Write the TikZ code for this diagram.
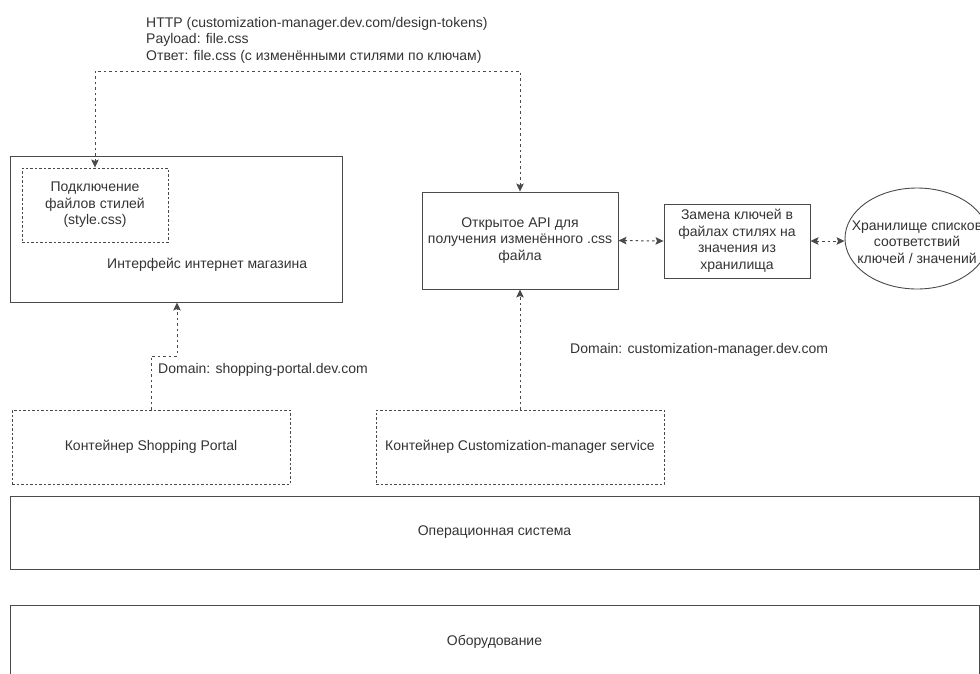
\documentclass[tikz,border=0pt]{standalone}
\usepackage{fontspec}
\setmainfont{Liberation Sans}
\usetikzlibrary{arrows.meta,shapes.geometric}
\definecolor{linec}{HTML}{4A4A4A}
\definecolor{textc}{HTML}{333333}
\tikzset{
  base/.style={font=\fontsize{14}{16.5}\selectfont, text=textc},
  box/.style={base, draw=linec, line width=0.9pt, align=center, inner sep=0pt},
  dbox/.style={box, dash pattern=on 2.5pt off 2pt},
  lbl/.style={base, inner sep=0pt, align=left},
  tip/.style={},
  conn/.style={draw=linec, line width=1pt, dash pattern=on 2.5pt off 3pt,
    arrows={Stealth[length=8pt,width=7.5pt,inset=1.5pt]-Stealth[length=8pt,width=7.5pt,inset=1.5pt]}},
  oneway/.style={draw=linec, line width=1pt, dash pattern=on 2.5pt off 3pt,
    -{Stealth[length=8pt,width=7.5pt,inset=1.5pt]}}
}
\begin{document}
\begin{tikzpicture}[x=1pt,y=-1pt]
\useasboundingbox (0,0) rectangle (980,673);

% request description above the HTTP connector
\node[lbl, anchor=north west] (httpnote) at (146,17)
  {HTTP (customization-manager.dev.com/design-tokens)\\
   Payload: file.css\\
   Ответ: file.css (с изменёнными стилями по ключам)};

% shop front-end
\node[box, minimum width=332, minimum height=146] (shop) at (176,229) {};
\node[dbox, minimum width=146, minimum height=74] (css) at (95,205)
  {Подключение\\файлов стилей\\(style.css)};
\node[lbl, anchor=west] (shoplabel) at (107,265) {Интерфейс интернет магазина};

% customization service
\node[box, minimum width=196, minimum height=97] (api) at (520,240.5)
  {Открытое API для\\получения изменённого .css\\файла};
\node[box, minimum width=146, minimum height=74] (repl) at (737,241)
  {Замена ключей в\\файлах стилях на\\значения из\\хранилища};
\node[draw=linec, line width=0.9pt, ellipse, minimum width=144, minimum height=101, inner sep=0pt] (store) at (917,238.5) {};
\node[base, align=center, inner sep=0pt] (storetext) at (917,242)
  {Хранилище списков\\соответствий\\ключей / значений};

% domain labels
\node[lbl, anchor=west] (shopdomain) at (158,370) {Domain: shopping-portal.dev.com};
\node[lbl, anchor=west] (cmdomain) at (570,350) {Domain: customization-manager.dev.com};

% containers
\node[dbox, minimum width=278, minimum height=74] (spc) at (151,447) {Контейнер Shopping Portal};
\node[dbox, minimum width=288, minimum height=74] (cmc) at (520,447) {Контейнер Customization-manager service};

% platform layers
\node[box, minimum width=969, minimum height=73] (os) at (494.5,532.5) {Операционная система};
\node[box, minimum width=969, minimum height=110] (hw) at (494.5,660) {};
\node[base, inner sep=0pt] (hwtext) at (494.5,642) {Оборудование};

% connectors
\coordinate (bar) at (300,71);
\draw[conn] (css.north) -- (css.north |- bar) -| (api.north);
\draw[conn] (api.east) -- (repl.west);
\draw[conn] (repl.east) -- (repl.east -| store.west);
\coordinate (bend) at (177,356);
\draw[oneway] (spc.north) |- (bend) -- (bend |- shop.south);
\draw[oneway] (cmc.north) -- (api.south);
\end{tikzpicture}
\end{document}
